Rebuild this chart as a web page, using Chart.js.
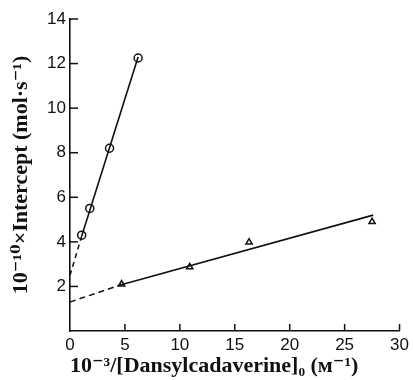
<!DOCTYPE html>
<html>
<head>
<meta charset="utf-8">
<script src="https://cdn.jsdelivr.net/npm/chart.js@4.4.0/dist/chart.umd.min.js"></script>
<style>
  html, body { margin: 0; padding: 0; background: #fff; }
  #wrap { width: 413px; height: 380px; }
</style>
</head>
<body>
<div id="wrap"><canvas id="grafico" width="413" height="380"></canvas></div>
<script>
// Pontos medidos (círculos e triângulos)
const circleX = [1.06, 1.8, 3.6, 6.2];
const circleY = [4.3, 5.5, 8.2, 12.25];
const triX = [4.7, 10.9, 16.3, 27.5];
const triY = [2.1, 2.87, 3.98, 4.9];

// Retas ajustadas: trecho sólido e extrapolação tracejada
const circleFitX = [1.06, 6.2];
const circleFitY = [4.25, 12.3];
const circleDashX = [0, 1.06];
const circleDashY = [2.5, 4.25];
const triFitX = [4.5, 27.6];
const triFitY = [2.05, 5.2];
const triDashX = [0, 4.5];
const triDashY = [1.3, 2.05];

// Ticks dos eixos
const xTicks = [0, 5, 10, 15, 20, 25, 30];
const yTicks = [0, 2, 4, 6, 8, 10, 12, 14];

const xTitle = '10\u207B\u00B3/[Dansylcadaverine]\u2080 (\u1D0D\u207B\u00B9)';
const yTitle = '10\u207B\u00B9\u2070\u00D7Intercept (mol\u00B7s\u207B\u00B9)';

function pares(xs, ys) {
    return xs.map((x, i) => ({ x: x, y: ys[i] }));
}

// Desenha os ticks para dentro da área do gráfico
const ticksParaDentro = {
    id: 'ticksParaDentro',
    afterDraw(chart) {
        const c = chart.ctx;
        const xs = chart.scales.x, ys = chart.scales.y;
        c.save();
        c.strokeStyle = '#111';
        c.lineWidth = 1.5;
        xTicks.forEach(v => {
            if (v === 0) return;
            const px = xs.getPixelForValue(v);
            c.beginPath();
            c.moveTo(px, ys.bottom);
            c.lineTo(px, ys.bottom - 7);
            c.stroke();
        });
        yTicks.forEach(v => {
            if (v === 0) return;
            const py = ys.getPixelForValue(v);
            c.beginPath();
            c.moveTo(xs.left, py);
            c.lineTo(xs.left + 8, py);
            c.stroke();
        });
        c.restore();
    }
};

const tickFont = { family: '"Liberation Sans", Arial, sans-serif', size: 17 };
const titleFont = { family: '"Liberation Serif", "DejaVu Serif", serif', size: 22, weight: 'bold' };

new Chart(document.getElementById('grafico').getContext('2d'), {
    type: 'scatter',
    data: {
        datasets: [
            {
                data: pares(circleDashX, circleDashY),
                showLine: true, borderColor: '#111', borderWidth: 1.5,
                borderDash: [5, 4], pointRadius: 0
            },
            {
                data: pares(circleFitX, circleFitY),
                showLine: true, borderColor: '#111', borderWidth: 1.6, pointRadius: 0
            },
            {
                data: pares(triDashX, triDashY),
                showLine: true, borderColor: '#111', borderWidth: 1.5,
                borderDash: [6, 4], pointRadius: 0
            },
            {
                data: pares(triFitX, triFitY),
                showLine: true, borderColor: '#111', borderWidth: 1.6, pointRadius: 0
            },
            {
                data: pares(circleX, circleY),
                pointStyle: 'circle', pointRadius: 4,
                backgroundColor: '#fff', borderColor: '#111', borderWidth: 1.5
            },
            {
                data: pares(triX, triY),
                pointStyle: 'triangle', pointRadius: 3.6,
                backgroundColor: '#fff', borderColor: '#111', borderWidth: 1.5
            }
        ]
    },
    options: {
        responsive: false,
        animation: false,
        layout: { padding: { top: 19, right: 11, left: 0, bottom: 0 } },
        plugins: { legend: { display: false }, tooltip: { enabled: false } },
        scales: {
            x: {
                type: 'linear', min: 0, max: 30,
                afterFit: s => { s.height = 49; },
                afterBuildTicks: s => { s.ticks = xTicks.map(v => ({ value: v })); },
                grid: { display: false, drawTicks: false },
                border: { display: true, color: '#111', width: 1.6 },
                ticks: { color: '#111', font: tickFont, padding: 4, maxRotation: 0 },
                title: {
                    display: true, text: xTitle, align: 'start',
                    color: '#111', font: titleFont, padding: { top: 0, bottom: 0 }
                }
            },
            y: {
                type: 'linear', min: 0, max: 14,
                afterFit: s => { s.width = 70; },
                afterBuildTicks: s => { s.ticks = yTicks.map(v => ({ value: v })); },
                grid: { display: false, drawTicks: false },
                border: { display: true, color: '#111', width: 1.6 },
                ticks: {
                    color: '#111', font: tickFont, padding: 4,
                    callback: v => (v === 0 ? '' : v)
                },
                title: {
                    display: true, text: yTitle,
                    color: '#111', font: titleFont, padding: { top: 8, bottom: 0 }
                }
            }
        }
    },
    plugins: [ticksParaDentro]
});
</script>
</body>
</html>
